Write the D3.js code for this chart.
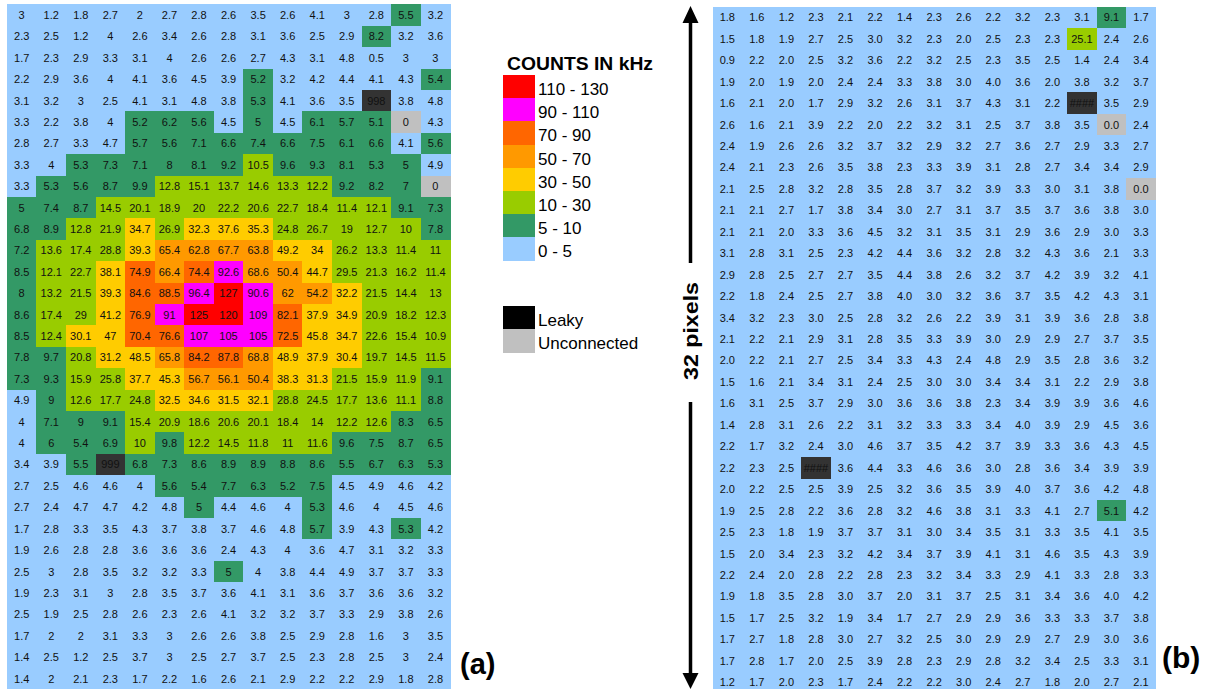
<!DOCTYPE html>
<html>
<head>
<meta charset="utf-8">
<script src="https://cdn.jsdelivr.net/npm/d3@7"></script>
<style>
  html, body { margin: 0; padding: 0; background: #fff; }
  svg { display: block; }
  text { font-family: "Liberation Sans", Arial, sans-serif; }
</style>
</head>
<body>
<svg id="chart" width="1207" height="689"></svg>
<script>
// ---------- DATA ----------
// Panel (a): counts in kHz, 32 rows x 15 columns (998/999 = leaky code, 0 = unconnected)
const countsA = [
  [3, 1.2, 1.8, 2.7, 2, 2.7, 2.8, 2.6, 3.5, 2.6, 4.1, 3, 2.8, 5.5, 3.2],
  [2.3, 2.5, 1.2, 4, 2.6, 3.4, 2.6, 2.8, 3.1, 3.6, 2.5, 2.9, 8.2, 3.2, 3.6],
  [1.7, 2.3, 2.9, 3.3, 3.1, 4, 2.6, 2.6, 2.7, 4.3, 3.1, 4.8, 0.5, 3, 3],
  [2.2, 2.9, 3.6, 4, 4.1, 3.6, 4.5, 3.9, 5.2, 3.2, 4.2, 4.4, 4.1, 4.3, 5.4],
  [3.1, 3.2, 3, 2.5, 4.1, 3.1, 4.8, 3.8, 5.3, 4.1, 3.6, 3.5, 998, 3.8, 4.8],
  [3.3, 2.2, 3.8, 4, 5.2, 6.2, 5.6, 4.5, 5, 4.5, 6.1, 5.7, 5.1, 0, 4.3],
  [2.8, 2.7, 3.3, 4.7, 5.7, 5.6, 7.1, 6.6, 7.4, 6.6, 7.5, 6.1, 6.6, 4.1, 5.6],
  [3.3, 4, 5.3, 7.3, 7.1, 8, 8.1, 9.2, 10.5, 9.6, 9.3, 8.1, 5.3, 5, 4.9],
  [3.3, 5.3, 5.6, 8.7, 9.9, 12.8, 15.1, 13.7, 14.6, 13.3, 12.2, 9.2, 8.2, 7, 0],
  [5, 7.4, 8.7, 14.5, 20.1, 18.9, 20, 22.2, 20.6, 22.7, 18.4, 11.4, 12.1, 9.1, 7.3],
  [6.8, 8.9, 12.8, 21.9, 34.7, 26.9, 32.3, 37.6, 35.3, 24.8, 26.7, 19, 12.7, 10, 7.8],
  [7.2, 13.6, 17.4, 28.8, 39.3, 65.4, 62.8, 67.7, 63.8, 49.2, 34, 26.2, 13.3, 11.4, 11],
  [8.5, 12.1, 22.7, 38.1, 74.9, 66.4, 74.4, 92.6, 68.6, 50.4, 44.7, 29.5, 21.3, 16.2, 11.4],
  [8, 13.2, 21.5, 39.3, 84.6, 88.5, 96.4, 127, 90.6, 62, 54.2, 32.2, 21.5, 14.4, 13],
  [8.6, 17.4, 29, 41.2, 76.9, 91, 125, 120, 109, 82.1, 37.9, 34.9, 20.9, 18.2, 12.3],
  [8.5, 12.4, 30.1, 47, 70.4, 76.6, 107, 105, 105, 72.5, 45.8, 34.7, 22.6, 15.4, 10.9],
  [7.8, 9.7, 20.8, 31.2, 48.5, 65.8, 84.2, 87.8, 68.8, 48.9, 37.9, 30.4, 19.7, 14.5, 11.5],
  [7.3, 9.3, 15.9, 25.8, 37.7, 45.3, 56.7, 56.1, 50.4, 38.3, 31.3, 21.5, 15.9, 11.9, 9.1],
  [4.9, 9, 12.6, 17.7, 24.8, 32.5, 34.6, 31.5, 32.1, 28.8, 24.5, 17.7, 13.6, 11.1, 8.8],
  [4, 7.1, 9, 9.1, 15.4, 20.9, 18.6, 20.6, 20.1, 18.4, 14, 12.2, 12.6, 8.3, 6.5],
  [4, 6, 5.4, 6.9, 10, 9.8, 12.2, 14.5, 11.8, 11, 11.6, 9.6, 7.5, 8.7, 6.5],
  [3.4, 3.9, 5.5, 999, 6.8, 7.3, 8.6, 8.9, 8.9, 8.8, 8.6, 5.5, 6.7, 6.3, 5.3],
  [2.7, 2.5, 4.6, 4.6, 4, 5.6, 5.4, 7.7, 6.3, 5.2, 7.5, 4.5, 4.9, 4.6, 4.2],
  [2.7, 2.4, 4.7, 4.7, 4.2, 4.8, 5, 4.4, 4.6, 4, 5.3, 4.6, 4, 4.5, 4.6],
  [1.7, 2.8, 3.3, 3.5, 4.3, 3.7, 3.8, 3.7, 4.6, 4.8, 5.7, 3.9, 4.3, 5.3, 4.2],
  [1.9, 2.6, 2.8, 2.8, 3.6, 3.6, 3.6, 2.4, 4.3, 4, 3.6, 4.7, 3.1, 3.2, 3.3],
  [2.5, 3, 2.8, 3.5, 3.2, 3.2, 3.3, 5, 4, 3.8, 4.4, 4.9, 3.7, 3.7, 3.3],
  [1.9, 2.3, 3.1, 3, 2.8, 3.5, 3.7, 3.6, 4.1, 3.1, 3.6, 3.7, 3.6, 3.6, 3.2],
  [2.5, 1.9, 2.5, 2.8, 2.6, 2.3, 2.6, 4.1, 3.2, 3.2, 3.7, 3.3, 2.9, 3.8, 2.6],
  [1.7, 2, 2, 3.1, 3.3, 3, 2.6, 2.6, 3.8, 2.5, 2.9, 2.8, 1.6, 3, 3.5],
  [1.4, 2.5, 1.2, 2.5, 3.7, 3, 2.5, 2.7, 3.7, 2.5, 2.3, 2.8, 2.5, 3, 2.4],
  [1.4, 2, 2.1, 2.3, 1.7, 2.2, 1.6, 2.6, 2.1, 2.9, 2.2, 2.2, 2.9, 1.8, 2.8]
];

// Panel (b): counts in kHz, 32 rows x 15 columns (999 = leaky, shown as ####; 0 = unconnected)
const countsB = [
  [1.8, 1.6, 1.2, 2.3, 2.1, 2.2, 1.4, 2.3, 2.6, 2.2, 3.2, 2.3, 3.1, 9.1, 1.7],
  [1.5, 1.8, 1.9, 2.7, 2.5, 3.0, 3.2, 2.3, 2.0, 2.5, 2.3, 2.3, 25.1, 2.4, 2.6],
  [0.9, 2.2, 2.0, 2.5, 3.2, 3.6, 2.2, 3.2, 2.5, 2.3, 3.5, 2.5, 1.4, 2.4, 3.4],
  [1.9, 2.0, 1.9, 2.0, 2.4, 2.4, 3.3, 3.8, 3.0, 4.0, 3.6, 2.0, 3.8, 3.2, 3.7],
  [1.6, 2.1, 2.0, 1.7, 2.9, 3.2, 2.6, 3.1, 3.7, 4.3, 3.1, 2.2, 999, 3.5, 2.9],
  [2.6, 1.6, 2.1, 3.9, 2.2, 2.0, 2.2, 3.2, 3.1, 2.5, 3.7, 3.8, 3.5, 0, 2.4],
  [2.4, 1.9, 2.6, 2.6, 3.2, 3.7, 3.2, 2.9, 3.2, 2.7, 3.6, 2.7, 2.9, 3.3, 2.7],
  [2.4, 2.1, 2.3, 2.6, 3.5, 3.8, 2.3, 3.3, 3.9, 3.1, 2.8, 2.7, 3.4, 3.4, 2.9],
  [2.1, 2.5, 2.8, 3.2, 2.8, 3.5, 2.8, 3.7, 3.2, 3.9, 3.3, 3.0, 3.1, 3.8, 0],
  [2.1, 2.1, 2.7, 1.7, 3.8, 3.4, 3.0, 2.7, 3.1, 3.7, 3.5, 3.7, 3.6, 3.8, 3.0],
  [2.1, 2.1, 2.0, 3.3, 3.6, 4.5, 3.2, 3.1, 3.5, 3.1, 2.9, 3.6, 2.9, 3.0, 3.3],
  [3.1, 2.8, 3.1, 2.5, 2.3, 4.2, 4.4, 3.6, 3.2, 2.8, 3.2, 4.3, 3.6, 2.1, 3.3],
  [2.9, 2.8, 2.5, 2.7, 2.7, 3.5, 4.4, 3.8, 2.6, 3.2, 3.7, 4.2, 3.9, 3.2, 4.1],
  [2.2, 1.8, 2.4, 2.5, 2.7, 3.8, 4.0, 3.0, 3.2, 3.6, 3.7, 3.5, 4.2, 4.3, 3.1],
  [3.4, 3.2, 2.3, 3.0, 2.5, 2.8, 3.2, 2.6, 2.2, 3.9, 3.1, 3.9, 3.6, 2.8, 3.8],
  [2.1, 2.2, 2.1, 2.9, 3.1, 2.8, 3.5, 3.3, 3.9, 3.0, 2.9, 2.9, 2.7, 3.7, 3.5],
  [2.0, 2.2, 2.1, 2.7, 2.5, 3.4, 3.3, 4.3, 2.4, 4.8, 2.9, 3.5, 2.8, 3.6, 3.2],
  [1.5, 1.6, 2.1, 3.4, 3.1, 2.4, 2.5, 3.0, 3.0, 3.4, 3.4, 3.1, 2.2, 2.9, 3.8],
  [1.6, 3.1, 2.5, 3.7, 2.9, 3.0, 3.6, 3.6, 3.8, 2.3, 3.4, 3.9, 3.9, 3.6, 4.6],
  [1.4, 2.8, 3.1, 2.6, 2.2, 3.1, 3.2, 3.3, 3.3, 3.4, 4.0, 3.9, 2.9, 4.5, 3.6],
  [2.2, 1.7, 3.2, 2.4, 3.0, 4.6, 3.7, 3.5, 4.2, 3.7, 3.9, 3.3, 3.6, 4.3, 4.5],
  [2.2, 2.3, 2.5, 999, 3.6, 4.4, 3.3, 4.6, 3.6, 3.0, 2.8, 3.6, 3.4, 3.9, 3.9],
  [2.0, 2.2, 2.5, 2.5, 3.9, 2.5, 3.2, 3.6, 3.5, 3.9, 4.0, 3.7, 3.6, 4.2, 4.8],
  [1.9, 2.5, 2.8, 2.2, 3.6, 2.8, 3.2, 4.6, 3.8, 3.1, 3.3, 4.1, 2.7, 5.1, 4.2],
  [2.5, 2.3, 1.8, 1.9, 3.7, 3.7, 3.1, 3.0, 3.4, 3.5, 3.1, 3.3, 3.5, 4.1, 3.5],
  [1.5, 2.0, 3.4, 2.3, 3.2, 4.2, 3.4, 3.7, 3.9, 4.1, 3.1, 4.6, 3.5, 4.3, 3.9],
  [2.2, 2.4, 2.0, 2.8, 2.2, 2.8, 2.3, 3.2, 3.4, 3.3, 2.9, 4.1, 3.3, 2.8, 3.3],
  [1.9, 1.8, 3.5, 2.8, 3.0, 3.7, 2.0, 3.1, 3.7, 2.5, 3.1, 3.4, 3.6, 4.0, 4.2],
  [1.5, 1.7, 2.5, 3.2, 1.9, 3.4, 1.7, 2.7, 2.9, 2.9, 3.6, 3.3, 3.3, 3.7, 3.8],
  [1.7, 2.7, 1.8, 2.8, 3.0, 2.7, 3.2, 2.5, 3.0, 2.9, 2.9, 2.7, 2.9, 3.0, 3.6],
  [1.7, 2.8, 1.7, 2.0, 2.5, 3.9, 2.8, 2.3, 2.9, 2.8, 3.2, 3.4, 2.5, 3.3, 3.1],
  [1.2, 1.7, 2.0, 2.3, 1.7, 2.4, 2.2, 2.2, 3.0, 2.4, 2.7, 1.8, 2.0, 2.7, 2.1]
];

const thresholds = [5, 10, 30, 50, 70, 90, 110];
const binColors = ["#99ccff", "#339966", "#99cc00", "#ffcc00", "#ff9900", "#ff6600", "#ff00ff", "#ff0000"];
const legendLabels = ["0 - 5", "5 - 10", "10 - 30", "30 - 50", "50 - 70", "70 - 90", "90 - 110", "110 - 130"];
const statusLabels = ["Leaky", "Unconnected"];
const legendTitle = "COUNTS IN kHz";
const LEAKY_CODE = 998;

// ---------- DRAW ----------
const svg = d3.select("#chart");
const color = d3.scaleThreshold().domain(thresholds).range(binColors);
const leakyCell = "#333333", leakySwatch = "#000000", unconnected = "#c0c0c0";

function cellFill(v) {
  if (v >= LEAKY_CODE) return leakyCell;
  if (v === 0) return unconnected;
  return color(v);
}

function drawPanel(data, x0, x1, y0, y1, fmt) {
  const nRows = data.length, nCols = data[0].length;
  const x = d3.scaleBand().domain(d3.range(nCols)).range([x0, x1]);
  const y = d3.scaleBand().domain(d3.range(nRows)).range([y0, y1]);
  const cells = [];
  data.forEach((row, r) => row.forEach((v, c) => cells.push({ r, c, v })));
  const g = svg.append("g");
  g.selectAll("rect").data(cells).join("rect")
    .attr("x", d => x(d.c)).attr("y", d => y(d.r))
    .attr("width", x.bandwidth() + 0.5).attr("height", y.bandwidth() + 0.5)
    .attr("fill", d => cellFill(d.v))
    .attr("shape-rendering", "crispEdges");
  g.selectAll("text").data(cells).join("text")
    .attr("x", d => x(d.c) + x.bandwidth() / 2)
    .attr("y", d => y(d.r) + y.bandwidth() / 2)
    .attr("dy", "0.36em")
    .attr("text-anchor", "middle")
    .attr("font-size", 11)
    .attr("fill", "#111")
    .text(d => fmt(d.v));
}

drawPanel(countsA, 6.9, 450.2, 4.3, 689.3, v => String(v));
drawPanel(countsB, 712.5, 1155.8, 6.6, 693, v => v >= LEAKY_CODE ? "####" : v.toFixed(1));

// Legend
svg.append("text").attr("x", 507).attr("y", 69.5)
  .attr("font-size", 18.5).attr("font-weight", "bold")
  .attr("textLength", 146).attr("lengthAdjust", "spacingAndGlyphs")
  .text(legendTitle);

const ly = d3.scaleBand().domain(d3.range(binColors.length)).range([75, 260.7]);
const legendItems = binColors.map((c, i) => ({ c, label: legendLabels[i] })).reverse();
const lg = svg.append("g");
lg.selectAll("rect").data(legendItems).join("rect")
  .attr("x", 503).attr("y", (d, i) => ly(i))
  .attr("width", 32).attr("height", ly.bandwidth() + 0.5)
  .attr("fill", d => d.c).attr("shape-rendering", "crispEdges");
lg.selectAll("text").data(legendItems).join("text")
  .attr("x", 538).attr("y", (d, i) => ly(i) + 20)
  .attr("font-size", 17).text(d => d.label);

const sy = d3.scaleBand().domain(d3.range(statusLabels.length)).range([305.7, 352.7]);
const statusItems = [{ c: leakySwatch, label: statusLabels[0] }, { c: unconnected, label: statusLabels[1] }];
const sg = svg.append("g");
sg.selectAll("rect").data(statusItems).join("rect")
  .attr("x", 503).attr("y", (d, i) => sy(i))
  .attr("width", 32).attr("height", sy.bandwidth() + 0.5)
  .attr("fill", d => d.c).attr("shape-rendering", "crispEdges");
sg.selectAll("text").data(statusItems).join("text")
  .attr("x", 538).attr("y", (d, i) => sy(i) + 20)
  .attr("font-size", 17).text(d => d.label);

// Double arrow with "32 pixels"
const ax = 690.5;
svg.append("line").attr("x1", ax).attr("x2", ax).attr("y1", 22).attr("y2", 263)
  .attr("stroke", "#000").attr("stroke-width", 3.5);
svg.append("line").attr("x1", ax).attr("x2", ax).attr("y1", 402).attr("y2", 675)
  .attr("stroke", "#000").attr("stroke-width", 3.5);
svg.append("path").attr("d", `M${ax},6 L${ax - 8},23 L${ax + 8},23 Z`).attr("fill", "#000");
svg.append("path").attr("d", `M${ax},689 L${ax - 8},673 L${ax + 8},673 Z`).attr("fill", "#000");
svg.append("text")
  .attr("transform", `translate(697.5,331) rotate(-90)`)
  .attr("text-anchor", "middle")
  .attr("font-size", 21).attr("font-weight", "bold")
  .attr("textLength", 98).attr("lengthAdjust", "spacingAndGlyphs")
  .text("32 pixels");

// Panel labels
svg.append("text").attr("x", 460).attr("y", 674)
  .attr("font-size", 29).attr("font-weight", "bold").text("(a)");
svg.append("text").attr("x", 1162).attr("y", 668)
  .attr("font-size", 30).attr("font-weight", "bold").text("(b)");
</script>
</body>
</html>
